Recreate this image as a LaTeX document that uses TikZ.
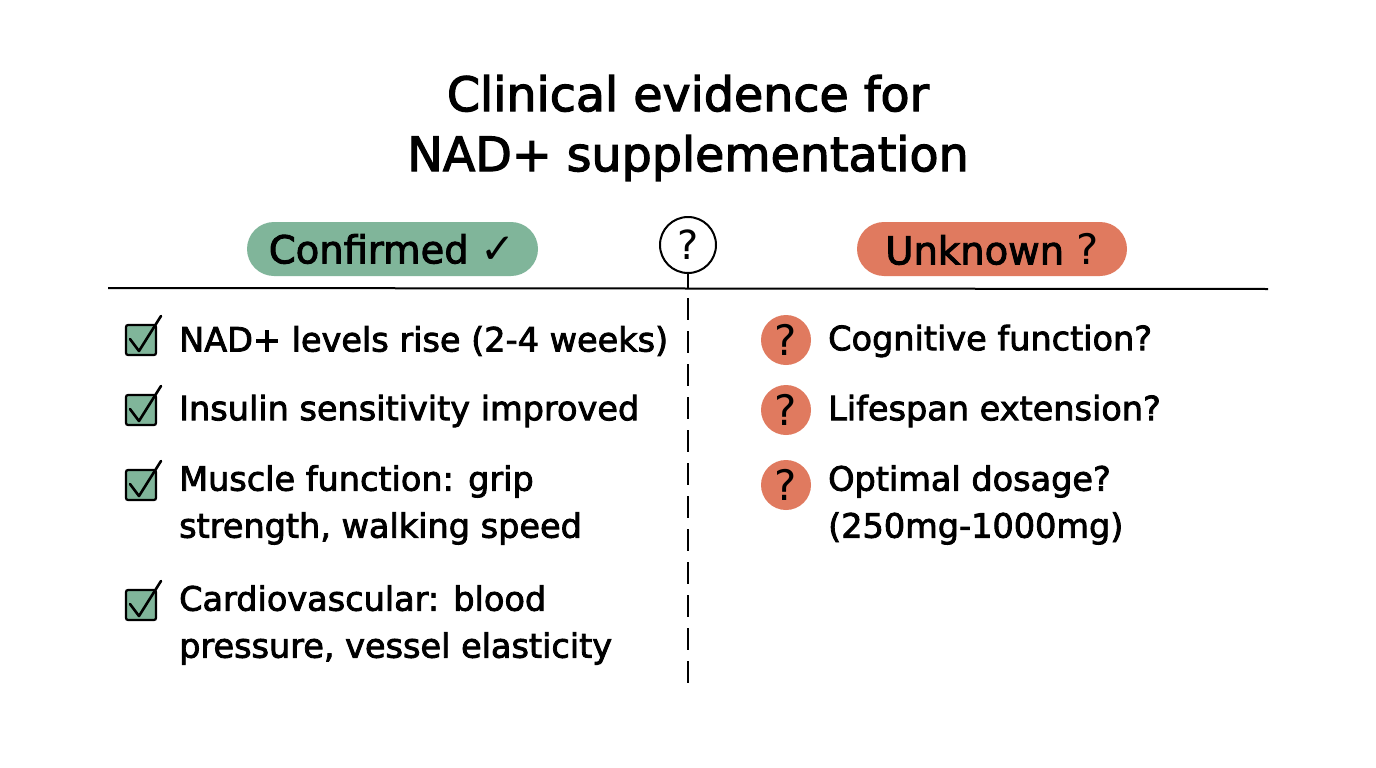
\documentclass[tikz,border=0pt]{standalone}
\usepackage{fontspec}
\setmainfont[FakeBold=2.5]{DejaVu Sans}
\newfontfamily\symfont{DejaVu Sans}
\definecolor{okgreen}{RGB}{128,181,154}
\definecolor{unkred}{RGB}{224,122,95}
\tikzset{
  title/.style={font=\fontsize{47.5}{60}\selectfont, align=center, text=black},
  pill/.style={rounded corners=27pt, minimum height=54pt, inner sep=0pt},
  head/.style={font=\fontsize{38.5}{46}\selectfont},
  item/.style={font=\fontsize{33.5}{47}\selectfont, anchor=west, align=left, inner sep=0pt},
  cbox/.style={draw=black, line width=2.2pt, fill=okgreen, minimum size=30pt, inner sep=0pt, rounded corners=2pt},
  qdot/.style={circle, fill=unkred, minimum size=50pt, inner sep=0pt, font=\fontsize{42}{44}\selectfont\symfont},
  rule/.style={line width=2pt, black},
}
\begin{document}
\begin{tikzpicture}[x=1pt,y=-1pt]
\useasboundingbox[fill=white] (0,0) rectangle (1376,768);
\node[title] (t) at (688,128) {Clinical evidence for\\NAD+ supplementation};
% pills
\node[pill, fill=okgreen, minimum width=291pt] (cp) at (392.5,249) {};
\node[head] (ct) at (cp.center) {Confirmed {\symfont\fontsize{42}{46}\selectfont ✓}};
\node[pill, fill=unkred, minimum width=270pt] (up) at (992,249) {};
\node[head] (ut) at (up.center) {Unknown {\symfont\fontsize{42}{46}\selectfont ?}};
% center question
\node[circle, draw=black, line width=2pt, minimum size=56pt, inner sep=0pt, font=\fontsize{40}{44}\selectfont\symfont] (q) at (688,245) {?};
\coordinate (hl) at (108,288);
\coordinate (hr) at (1268,289);
\draw[rule] (hl) -- (hr);
\coordinate (vs) at (688,289);
\coordinate (vd) at (688,298);
\coordinate (ve) at (688,690);
\draw[rule] (q.south) -- (vs);
\draw[rule, dash pattern=on 22pt off 11pt] (vd) -- (ve);
% left checks
\foreach \n/\y in {a/340,b/410,c/485,d/605}{
  \node[cbox] (cb\n) at (141,\y) {};
  \draw[line width=2.6pt, line cap=round, line join=round] ([shift={(-11,-1)}]cb\n.center) -- ([shift={(-2,11)}]cb\n.center) -- ([shift={(20,-24)}]cb\n.center);
}
\node[item] (ia) at (179,341) {NAD+ levels rise (2-4 weeks)};
\node[item] (ib) at (179,411) {Insulin sensitivity improved};
\node[item, anchor=north west] (ic) at (179,465) {Muscle function: grip\\strength, walking speed};
\node[item, anchor=north west] (id) at (179,585) {Cardiovascular: blood\\pressure, vessel elasticity};
% right
\foreach \n/\y in {a/340,b/410,c/485}{
  \node[qdot] (qd\n) at (786,\y) {?};
}
\node[item] (ja) at (828,341) {Cognitive function?};
\node[item] (jb) at (828,411) {Lifespan extension?};
\node[item, anchor=north west] (jc) at (828,465) {Optimal dosage?\\(250mg-1000mg)};
\end{tikzpicture}
\end{document}
